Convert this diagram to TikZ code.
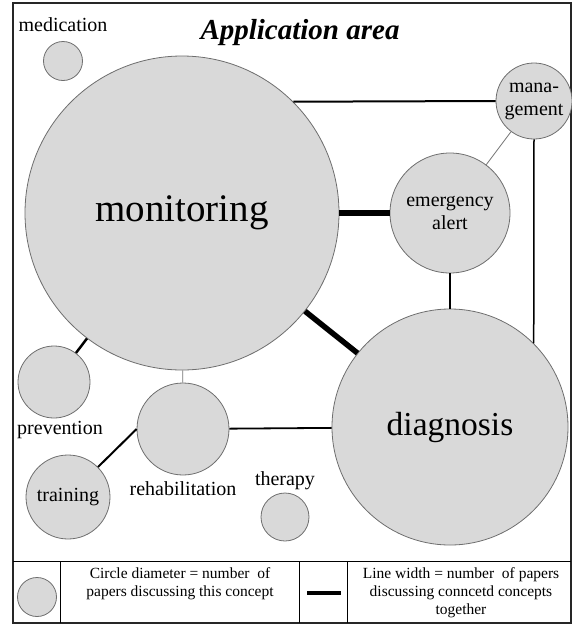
\documentclass[tikz,border=0pt]{standalone}
\usepackage{fontspec}
\setmainfont{Liberation Serif}
\usetikzlibrary{positioning}

\definecolor{conceptfill}{HTML}{D9D9D9}
\definecolor{conceptline}{HTML}{6E6E6E}

\begin{document}
\begin{tikzpicture}[
        x=1pt, y=-1pt,
        every node/.style={font=\fontsize{20}{23}\selectfont, inner sep=0pt},
        concept/.style={circle, draw=conceptline, line width=0.8pt, fill=conceptfill, align=center},
        textnode/.style={align=center},
        keytext/.style={align=center, font=\fontsize{15.5}{18}\selectfont},
        link/.style={line width=#1},
        link/.default=1.5pt,
        faintlink/.style={line width=0.8pt, draw=black!55}
    ]
    \useasboundingbox (0,0) rectangle (572,625);

    % Frame and legend grid
    \draw[line width=1.5pt, black!85] (13,3) rectangle (571,623);
    \draw[line width=1pt] (13,561) -- (571,561);
    \draw[line width=1pt] (60,561) -- (60,623) (299,561) -- (299,623) (347,561) -- (347,623);

    % Title
    \node[font=\fontsize{29}{32}\selectfont\bfseries\itshape] (title) at (300,33) {Application area};

    % Concepts
    \node[concept, minimum size=314pt, font=\fontsize{39}{42}\selectfont] (mon) at (182,213) {monitoring};
    \node[concept, minimum size=236pt, font=\fontsize{33.5}{36}\selectfont] (diag) at (450,427) {diagnosis};
    \node[concept, minimum size=120pt] (alert) at (450,213) {emergency\\alert};
    \node[concept, minimum size=76pt] (mgmt) at (534,101) {mana-\\gement};
    \node[concept, minimum size=39pt] (med) at (63,61) {};
    \node[concept, minimum size=72pt] (prev) at (54,382) {};
    \node[concept, minimum size=92pt] (rehab) at (183,429) {};
    \node[concept, minimum size=84pt] (train) at (68,497) {training};
    \node[concept, minimum size=48pt] (ther) at (285,517) {};

    % Labels
    \node[textnode, above=9.5pt of med] (medlabel) {medication};
    \node[textnode, below=2.5pt of prev, xshift=6pt] (prevlabel) {prevention};
    \node[textnode, below=6pt of rehab] (rehablabel) {rehabilitation};
    \node[textnode, above=3pt of ther] (therlabel) {therapy};

    % Links
    \draw[link=5.5pt] (mon) -- (alert);
    \draw[link=5.5pt] (mon) -- (diag);
    \draw[link=2pt] (mon.45) -- (mgmt.west);
    \draw[link=2.5pt] (mon) -- (prev);
    \draw[faintlink] (mon) -- (rehab);
    \draw[faintlink] (alert) -- (mgmt);
    \draw[link] (alert) -- (diag);
    \draw[link] (mgmt.south) -- (diag.45);
    \draw[link=1.8pt] (rehab) -- (diag);
    \draw[link=2pt] (train.45) -- (rehab.west);

    % Legend
    \node[concept, minimum size=39pt] (keycircle) at (37,597) {};
    \node[keytext] (circlekey) at (180,584) {Circle diameter = number \ of\\papers discussing this concept};
    \coordinate (keyA) at (307,593);
    \coordinate (keyB) at (341,593);
    \draw[link=4.5pt] (keyA) -- (keyB);
    \node[keytext] (linekey) at (461,593) {Line width = number \ of papers\\discussing conncetd concepts\\together};
\end{tikzpicture}
\end{document}
